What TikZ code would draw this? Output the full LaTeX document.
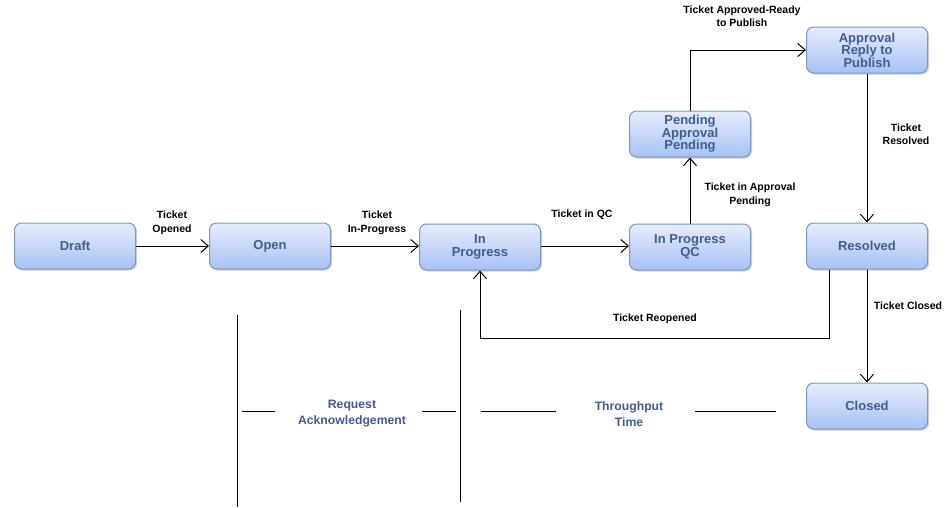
\documentclass[tikz,border=0pt]{standalone}
\usepackage{fontspec}
\setmainfont{Liberation Sans}
\usetikzlibrary{arrows.meta,shadows}
\definecolor{boxtext}{RGB}{63,93,143}
\definecolor{boxline}{RGB}{122,150,198}
\definecolor{boxtop}{RGB}{230,237,253}
\definecolor{boxbottom}{RGB}{166,193,244}

\begin{document}
\begin{tikzpicture}[x=1pt,y=-1pt,
		state/.style={draw=boxline,line width=1pt,rounded corners=7pt,top color=boxtop,bottom color=boxbottom,
			minimum width=121pt,minimum height=46pt,inner sep=0pt,align=center,text=boxtext,
			font=\fontsize{13}{12.5}\selectfont\bfseries,
			drop shadow={shadow xshift=1.5pt,shadow yshift=-1.5pt,opacity=0.35}},
		flow/.style={-{Straight Barb[length=7.5pt,width=13pt]},line width=1pt},
		lbl/.style={font=\fontsize{10.5}{13.5}\selectfont\bfseries,align=center},
		span/.style={text=boxtext,font=\fontsize{12.2}{16}\selectfont\bfseries,align=center}]
		\useasboundingbox (0,0) rectangle (950,507);
		
		% the states
		\node[state] (draft) at (75,246) {Draft};
		\node[state] (open) at (270,246) {Open};
		\node[state] (inprog) at (480,247) {In\\Progress};
		\node[state] (progqc) at (690,247) {In Progress\\QC};
		\node[state] (resolved) at (867,246) {Resolved};
		\node[state] (pending) at (690,134) {Pending\\Approval\\Pending};
		\node[state] (approval) at (867,50) {Approval\\Reply to\\Publish};
		\node[state] (closed) at (867,406) {Closed};
		
		% transitions
		\draw[flow] (draft) -- (open);
		\draw[flow] (open) -- (inprog.west |- open);
		\draw[flow] (inprog.east |- open) -- (progqc.west |- open);
		\draw[flow] (progqc) -- (pending);
		\draw[flow] (pending.north) |- (approval.west);
		\draw[flow] (approval) -- (resolved);
		\draw[flow] (resolved) -- (closed);
		\draw[flow] ([xshift=-38pt]resolved.south) -- ++(0,69) -| (inprog.south);
		
		% transition labels
		\node[lbl] (lopened) at (172,223) {Ticket\\Opened};
		\node[lbl] (linprog) at (377,223) {Ticket\\In-Progress};
		\node[lbl] (lqc) at (582,215) {Ticket in QC};
		\node[lbl] (lapprpend) at (750,195) {Ticket in Approval\\Pending};
		\node[lbl] (lready) at (742,16) {Ticket Approved-Ready\\to Publish};
		\node[lbl] (lresolved) at (906,134) {Ticket\\Resolved};
		\node[lbl] (lclosed) at (908,306) {Ticket Closed};
		\node[lbl] (lreopened) at (655,319) {Ticket Reopened};
		
		% time spans
		\draw[line width=1pt] (237,315) -- (237,507)
		                      (460,310) -- (460,502);
		\node[span] (reqack) at (352,414) {Request\\Acknowledgement};
		\node[span] (thrutime) at (629,414) {Throughput\\Time};
		\draw[line width=1pt] (242,411) -- (275,411)
		                      (422,411) -- (456,411)
		                      (481,411) -- (556,411)
		                      (695,411) -- (776,411);
	\end{tikzpicture}
\end{document}
